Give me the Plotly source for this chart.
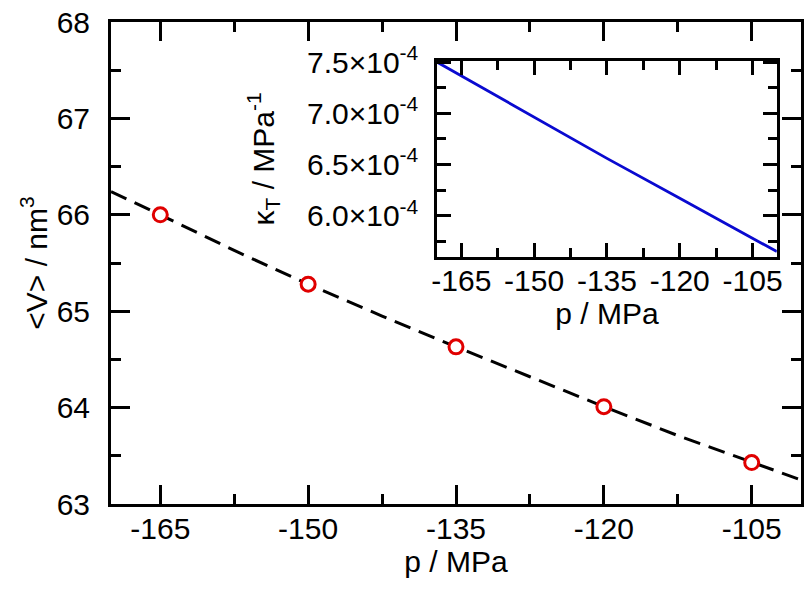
import plotly.graph_objects as go

# ---- data ----
p_points = [-165, -150, -135, -120, -105]
v_points = [66.00, 65.28, 64.63, 64.01, 63.43]

p_fit = [-170, -165, -157.5, -150, -142.5, -135, -127.5, -120, -112.5, -105, -100]
v_fit = [66.24, 66.00, 65.63, 65.28, 64.95, 64.63, 64.32, 64.01, 63.71, 63.43, 63.25]

p_kappa = [-170, -150, -135, -120, -100]
kappa = [7.50e-4, 6.96e-4, 6.56e-4, 6.17e-4, 5.65e-4]

main_xticks = [-165, -150, -135, -120, -105]
main_xticklabels = ["-165", "-150", "-135", "-120", "-105"]
main_yticks = [63, 64, 65, 66, 67, 68]
main_yticklabels = ["63", "64", "65", "66", "67", "68"]
inset_yticks = [6.0e-4, 6.5e-4, 7.0e-4, 7.5e-4]
inset_yticklabels = ["6.0×10<sup>-4</sup>", "6.5×10<sup>-4</sup>",
                     "7.0×10<sup>-4</sup>", "7.5×10<sup>-4</sup>"]

FONT = "Liberation Sans, Arial, sans-serif"
FS = 30

fig = go.Figure()
fig.add_trace(go.Scatter(x=p_fit, y=v_fit, mode="lines",
                         line=dict(color="black", width=3, dash="17px,9px"),
                         xaxis="x", yaxis="y", showlegend=False))
fig.add_trace(go.Scatter(x=p_points, y=v_points, mode="markers",
                         marker=dict(symbol="circle", size=14, color="white",
                                     line=dict(color="#e00000", width=3)),
                         xaxis="x", yaxis="y", showlegend=False))
fig.add_trace(go.Scatter(x=p_kappa, y=kappa, mode="lines",
                         line=dict(color="#0a0ad0", width=2.8),
                         xaxis="x2", yaxis="y2", showlegend=False))

axis_common = dict(showline=True, linecolor="black", mirror="ticks",
                   ticks="inside", tickcolor="black", showgrid=False,
                   zeroline=False, automargin=False, ticklabeloverflow="allow",
                   tickfont=dict(family=FONT, size=FS, color="black"))

fig.update_layout(
    width=807, height=593,
    margin=dict(l=111, r=6, t=22, b=89),
    paper_bgcolor="white", plot_bgcolor="white",
    font=dict(family=FONT, size=FS, color="black"),
    xaxis=dict(**axis_common, range=[-170, -100], tickvals=main_xticks,
               ticktext=main_xticklabels,
               ticklen=19, tickwidth=3, linewidth=3, ticklabelstandoff=-4,
               minor=dict(dtick=7.5, tick0=-165, ticklen=10, tickwidth=3,
                          ticks="inside", tickcolor="black", showgrid=False),
               title=dict(text="p / MPa", font=dict(family=FONT, size=FS), standoff=0)),
    yaxis=dict(**axis_common, range=[63, 68], tickvals=main_yticks,
               ticktext=main_yticklabels,
               ticklen=19, tickwidth=3, linewidth=3, ticklabelstandoff=12,
               minor=dict(dtick=0.5, tick0=63, ticklen=10, tickwidth=3,
                          ticks="inside", tickcolor="black", showgrid=False),
               title=dict(text="&lt;V&gt; / nm<sup>3</sup>", font=dict(family=FONT, size=FS),
                          standoff=1)),
    xaxis2=dict(**axis_common, anchor="y2", domain=[0.4725, 0.965],
                range=[-170, -100], tickvals=main_xticks, ticktext=main_xticklabels,
                ticklen=14, tickwidth=2.5, linewidth=2.5, ticklabelstandoff=-4,
                minor=dict(dtick=7.5, tick0=-165, ticklen=9, tickwidth=2.5,
                           ticks="inside", tickcolor="black", showgrid=False),
                title=dict(text="p / MPa", font=dict(family=FONT, size=FS), standoff=3)),
    yaxis2=dict(**axis_common, anchor="x2", domain=[0.513, 0.919],
                range=[5.60e-4, 7.51e-4], tickvals=inset_yticks,
                ticktext=inset_yticklabels,
                ticklen=14, tickwidth=2.5, linewidth=2.5, ticklabelstandoff=10,
                minor=dict(dtick=0.25e-4, tick0=5.75e-4, ticklen=9, tickwidth=2.5,
                           ticks="inside", tickcolor="black", showgrid=False),
                title=dict(text="κ<sub>T</sub> / MPa<sup>-1</sup>",
                           font=dict(family=FONT, size=FS), standoff=24)),
)

# remove the page's default body margin so the canvas fills the window
fig.write_html("out.html", config={"displayModeBar": False},
               post_script="document.body.style.margin='0px';")
